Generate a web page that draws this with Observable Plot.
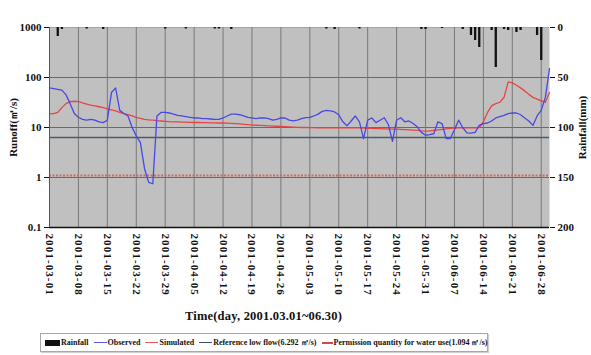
<!DOCTYPE html>
<html><head><meta charset="utf-8">
<script src="https://cdn.jsdelivr.net/npm/d3@7"></script>
<script src="https://cdn.jsdelivr.net/npm/@observablehq/plot@0.6"></script>
<style>
body{margin:0;background:#fff;}
#wrap{position:relative;width:591px;height:355px;font-family:"Liberation Serif",serif;font-weight:bold;color:#111;}
#wrap svg{position:absolute;left:0;top:0;}
#wrap svg text{font-weight:bold;}
g[aria-label="x-axis tick label"] text{letter-spacing:1.1px;}
#xtitle{position:absolute;top:309px;left:0;width:527px;text-align:center;font-size:12.5px;letter-spacing:0.2px;}
#legend{position:absolute;left:40px;top:333px;width:448px;height:19px;border:1px solid #a8a8a8;box-shadow:1px 1px 1px #d0d0d0;display:flex;align-items:center;font-size:8px;white-space:nowrap;padding-left:4px;box-sizing:border-box;}
.li{display:inline-flex;align-items:center;margin-right:5px;}
.sw{display:inline-block;margin-right:1px;}
</style>
</head><body>
<div id="wrap"><div id="xtitle"></div><div id="legend"></div></div>
<script>
// ---- data ----
const startDay = "2001-03-01";
const observed = [62,60,58,56,45,30,19,16,14.5,14,14.5,14,13,12.5,14,50,62,22,19,17,
  10,6.8,5,1.5,0.8,0.75,17,20,20,19.5,18.5,17.5,17,16.5,16,15.5,15.5,15,15,14.8,
  14.5,14.5,15.5,17,18.5,18.5,18,17,16,15.5,15,15.5,15.5,15,14,14.5,15.5,15.5,14,13.5,
  14,15,15.7,16,17,18.5,21,22,21.5,20.5,18,13,10.8,13.5,17,13,6,14,15.5,12.5,
  14,15.7,11.5,5.3,14,15.7,13,13.5,12,10.3,8,7,7.2,7.5,13,12,6,6,9,14,
  10,7.8,7.7,8,11,12,12.3,13.5,15.5,16.5,17.5,19,19.5,19.5,18,15.5,13.5,11,17,22,
  40,150];
const simulated = [19,19,20,25,30,33,33.5,33,31,29.5,28,27,26,25,23.5,22.5,21.5,20,19,18,
  17,16,15.3,14.5,14.2,14,13.7,13.5,13.3,13.1,13,12.9,12.8,12.8,12.7,12.6,12.6,12.5,12.5,12.4,
  12.4,12.3,12.3,12.2,12.1,12,11.8,11.6,11.4,11.2,11.1,11,10.9,10.8,10.7,10.6,10.5,10.4,10.3,10.2,
  10.1,10,10,9.9,9.9,9.8,9.8,9.8,9.8,9.8,9.8,9.8,9.8,9.8,9.8,9.8,9.7,9.6,9.6,9.5,
  9.5,9.4,9.4,9.3,9.3,9.2,9.1,9,8.9,8.8,8.6,8.5,8.6,8.8,9,9.2,9.4,9.6,9.7,9.8,
  9.8,9.8,9.8,9.8,10,13,20,27,30,32,40,82,78,70,62,54,46,40,37,34,
  32,50];
const rainDays = [2,3,9,13,28,33,40,41,44,67,69,75,90,91,95,100,102,103,104,107,108,110,111,113,114,118,119];
const rainMM   = [9,2,1.5,2,1.5,1.5,1.5,1.5,2,1.5,2,1.5,2,2,1,2,8,13,20,3,40,2,3,5,3,8,33];
const referenceLowFlow = 6.292;
const permissionQuantity = 1.094;
const tickLabels = ["2001-03-01","2001-03-08","2001-03-15","2001-03-22","2001-03-29","2001-04-05",
  "2001-04-12","2001-04-19","2001-04-26","2001-05-03","2001-05-10","2001-05-17","2001-05-24",
  "2001-05-31","2001-06-07","2001-06-14","2001-06-21","2001-06-28"];
const runoffTicks = [0.1,1,10,100,1000];
const rainTicks = [0,50,100,150,200];
const xTitle = "Time(day, 2001.03.01~06.30)";
const yTitle = "Runoff(㎥/s)";
const y2Title = "Rainfall(mm)";
const legendLabels = ["Rainfall","Observed","Simulated","Reference low flow(6.292 ㎥/s)","Permission quantity for water use(1.094 ㎥/s)"];
const legendColors = ["#111","#5a5ae8","#ec5a5a","#3e5068","#d04a4a"];

// ---- build ----
const parse = d3.utcParse("%Y-%m-%d");
const t0 = parse(startDay);
const rows = observed.map((v,i)=>({date:d3.utcDay.offset(t0,i), obs:v, sim:simulated[i]}));
const rainRows = rainDays.map((d,i)=>({date:d3.utcDay.offset(t0,d), mm:rainMM[i]}));
const tickDates = tickLabels.map(parse);
const xDomain = [t0, d3.utcDay.offset(t0, observed.length-1)];
const W=591, H=305;
const M = {marginLeft:49, marginRight:42, marginTop:27, marginBottom:78};
const st = "background:transparent;font-family:'Liberation Serif',serif;font-weight:bold;font-size:11px;overflow:visible;color:#111";

const p1 = Plot.plot({width:W, height:H, ...M, style:st,
  x:{type:"utc", domain:xDomain},
  y:{type:"log", domain:[0.1,1000]},
  marks:[
    Plot.frame({fill:"#c0c0c0"}),
    Plot.ruleY([1000],{stroke:"#a6a6a6"}),
    Plot.ruleY([100,10,1],{stroke:"#6a6a6a"}),
    Plot.ruleX(tickDates,{stroke:"#787878"}),
    Plot.ruleY([referenceLowFlow],{stroke:"#4a5b70",strokeWidth:1.6}),
    Plot.ruleY([permissionQuantity],{stroke:"#c86a6a",strokeWidth:2,strokeDasharray:"2,1.5"}),
    Plot.line(rows,{x:"date",y:"sim",stroke:"#e84444",strokeWidth:1.3}),
    Plot.line(rows,{x:"date",y:"obs",stroke:"#4848e6",strokeWidth:1.3}),
    Plot.ruleX([xDomain[0]],{stroke:"#555"}),
    Plot.ruleY([0.1],{stroke:"#111",strokeWidth:1.5}),
    Plot.axisY({ticks:runoffTicks, tickFormat:d=>String(d), tickSize:5, tickPadding:3,
      label:yTitle, labelAnchor:"center", labelOffset:40, labelArrow:"none"}),
    Plot.axisX({ticks:tickDates, tickFormat:d3.utcFormat("%Y-%m-%d"), tickRotate:90, tickSize:0, tickPadding:6, label:null})
  ]});

const p2 = Plot.plot({width:W, height:H, ...M, style:st,
  x:{type:"utc", domain:xDomain, axis:null},
  y:{domain:[0,200], reverse:true},
  marks:[
    Plot.ruleX(rainRows,{x:"date", y1:0, y2:"mm", stroke:"#111", strokeWidth:2.3}),
    Plot.axisY({anchor:"right", ticks:rainTicks, tickSize:5, tickPadding:3,
      label:y2Title, labelAnchor:"center", labelOffset:36, labelArrow:"none"})
  ]});

const wrap = document.getElementById("wrap");
wrap.appendChild(p1);
wrap.appendChild(p2);
document.getElementById("xtitle").textContent = xTitle;

const lg = document.getElementById("legend");
legendLabels.forEach((lab,i)=>{
  const it = document.createElement("span"); it.className="li";
  const sw = document.createElement("span"); sw.className="sw";
  if(i===0){ sw.style.cssText="width:15px;height:6px;background:"+legendColors[i]; }
  else if(i===4){ sw.style.cssText="width:11px;height:0;border-top:2px dashed "+legendColors[i]; }
  else { sw.style.cssText="width:13px;height:0;border-top:1.5px solid "+legendColors[i]; }
  const tx = document.createElement("span"); tx.textContent = lab;
  it.appendChild(sw); it.appendChild(tx); lg.appendChild(it);
});
</script>
</body></html>
